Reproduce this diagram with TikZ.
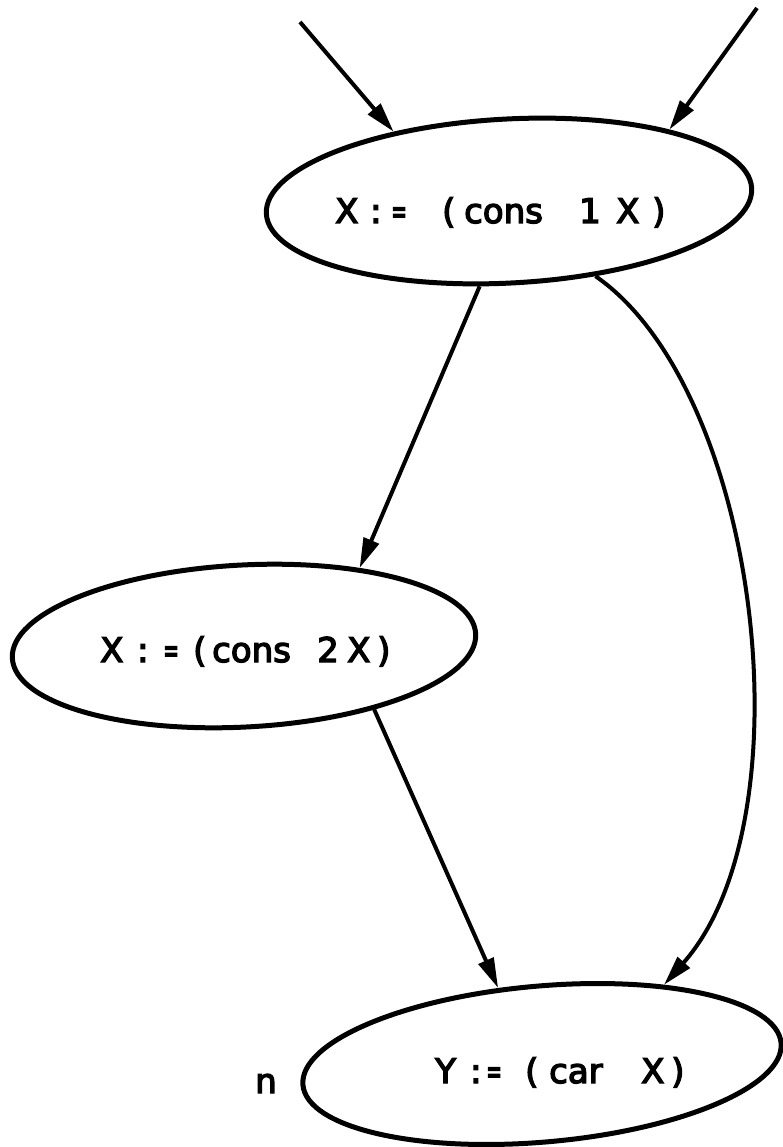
\documentclass[tikz,border=0pt]{standalone}
\usepackage{fontspec}
\setmainfont{DejaVu Sans}
\newfontfamily\lblfont[FakeBold=4]{DejaVu Sans}
\usetikzlibrary{shapes.geometric,arrows.meta}
\newcommand\gl[2]{\makebox[0pt][l]{\hspace*{#1pt}#2}}
\newcommand\eqs{\scalebox{0.55}[1]{=}}
\begin{document}
\begin{tikzpicture}[x=1pt,y=-1pt,
  stmt/.style={draw, ellipse, line width=5pt, inner sep=0pt},
  lbl/.style={anchor=base west, inner sep=0pt, font=\lblfont\fontsize{34}{40}\selectfont},
  flow/.style={line width=4pt, -{Triangle[length=30pt,width=16pt]}}]
\useasboundingbox (0,0) rectangle (783,1147);
% statement ellipses
\node[stmt, minimum width=486pt, minimum height=164pt, rotate=3] (top) at (509,201) {};
\node[stmt, minimum width=464pt, minimum height=162pt, rotate=3] (mid) at (244,646) {};
\node[stmt, minimum width=480pt, minimum height=156pt, rotate=5] (bot) at (542,1064) {};
% texts
\node[lbl] (ttop) at (335,223) {\gl{0}{X}\gl{35}{:}\gl{56}{\eqs}\gl{107}{(}\gl{129}{cons}\gl{244}{1}\gl{281}{X}\gl{317}{)}\hspace*{330pt}};
\node[lbl] (tmid) at (100,662) {\gl{0}{X}\gl{37}{:}\gl{63}{\eqs}\gl{93}{(}\gl{112}{cons}\gl{217}{2}\gl{247}{X}\gl{277}{)}\hspace*{290pt}};
\node[lbl] (tbot) at (435,1083) {\gl{0}{Y}\gl{35}{:}\gl{51}{\eqs}\gl{90}{(}\gl{114}{car}\gl{206}{X}\gl{236}{)}\hspace*{248pt}};
\node[lbl] (n) at (255,1093) {n};
% free ends and curve controls
\coordinate (in1) at (300,22);
\coordinate (in2) at (757,8);
\coordinate (c1) at (760,390);
\coordinate (c2) at (810,820);
% connectors
\draw[flow] (in1) -- (top.146);
\draw[flow] (in2) -- (top.21);
\draw[flow] (top.248) -- (mid.31);
\draw[flow] (mid.331) -- (bot.115);
\draw[flow] (top.316) .. controls (c1) and (c2) .. (bot.28);
\end{tikzpicture}
\end{document}
